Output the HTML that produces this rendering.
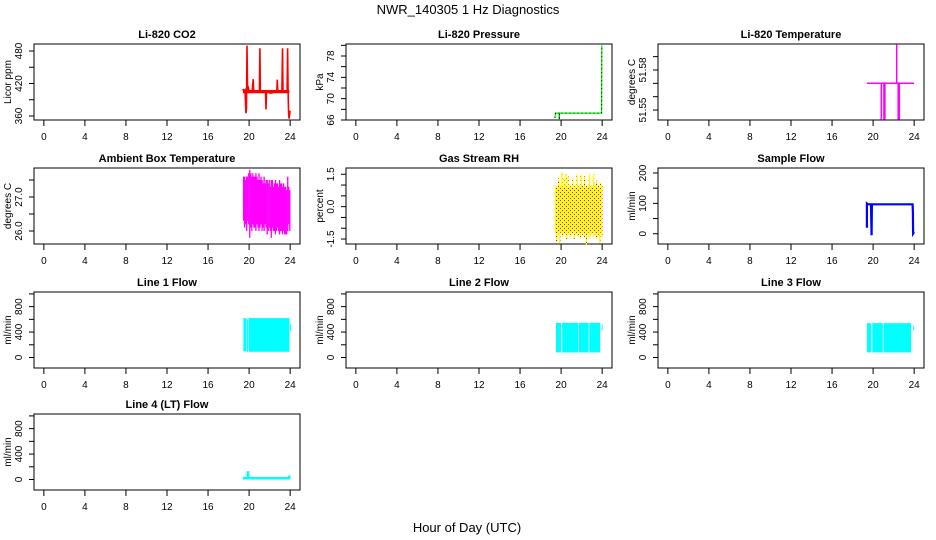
<!DOCTYPE html>
<html><head><meta charset="utf-8"><style>
html,body{margin:0;padding:0;background:#fff;}
svg{display:block;font-family:"Liberation Sans",Arial,sans-serif;}
</style></head><body>
<svg id="chart" width="936" height="540" viewBox="0 0 936 540">
<defs>
<pattern id="rhdots" width="4" height="4" patternUnits="userSpaceOnUse"><rect x="0" y="0" width="1" height="1" fill="#ff0000"/><rect x="2" y="2" width="1" height="1" fill="#ff0000"/></pattern>
</defs>
<text x="468" y="14" text-anchor="middle" font-size="13">NWR_140305  1 Hz Diagnostics</text>
<text x="467" y="532" text-anchor="middle" font-size="13">Hour of Day (UTC)</text>
</svg>
<script>
// ---- data ----
const xTicks = [0,4,8,12,16,20,24];
const co2Times = [19.4,19.5,19.6,19.7,19.75,19.8,19.85,19.9,20.0,20.3,20.4,20.45,21.0,21.05,21.1,21.6,21.65,21.7,22.1,22.7,22.75,22.8,23.2,23.25,23.3,23.7,23.75,23.8,23.85,23.9,24.0];
const co2Values = [410,406,408,365,375,490,405,415,405,406,428,405,405,485,405,405,372,405,402,405,427,405,405,485,405,405,485,405,365,355,370];
const presTimes = [19.4,19.45,19.8,19.82,19.85,23.9,23.95,23.97];
const presValues = [66.4,67.3,67.3,66.0,67.3,67.3,67.3,80.0];
const litTimes = [19.4,20.8,20.8,20.8,21.05,21.05,21.05,21.15,21.15,21.15,22.3,22.3,22.3,22.45,22.45,22.45,22.55,22.55,22.55,24.0];
const litValues = [51.565,51.565,51.5446,51.565,51.565,51.5446,51.565,51.565,51.5446,51.565,51.565,51.587,51.565,51.565,51.5446,51.565,51.565,51.5446,51.565,51.565];
const bandTimes = [19.4,19.5,19.6,19.7,19.8,19.9,20.0,20.1,20.2,20.3,20.4,20.5,20.6,20.7,20.8,20.9,21.0,21.1,21.2,21.3,21.4,21.5,21.6,21.7,21.8,21.9,22.0,22.1,22.2,22.3,22.4,22.5,22.6,22.7,22.8,22.9,23.0,23.1,23.2,23.3,23.4,23.5,23.6,23.7,23.8,23.9];
const ambHi = [27.6,27.6,27.5,27.6,27.6,27.7,27.8,27.7,27.6,27.7,27.6,27.6,27.7,27.6,27.5,27.7,27.5,27.6,27.5,27.4,27.6,27.4,27.5,27.5,27.4,27.5,27.3,27.5,27.5,27.3,27.4,27.5,27.4,27.4,27.3,27.5,27.4,27.4,27.3,27.4,27.3,27.3,27.2,27.6,27.3,27.2];
const ambLo = [26.3,26.1,26.2,26.0,26.3,26.2,25.8,26.1,26.0,26.2,26.1,26.1,26.0,26.2,26.1,26.0,26.1,26.2,26.0,26.1,26.0,26.2,26.1,25.9,26.0,26.1,26.0,25.8,26.1,26.0,26.0,25.9,26.0,26.1,26.0,25.9,26.0,26.0,25.9,26.0,25.9,25.9,25.9,26.0,26.2,26.0];
const rhHi = [1.0,0.9,0.9,1.3,0.9,1.0,1.6,0.9,1.3,0.9,1.5,0.9,1.4,0.9,1.0,0.9,0.9,1.3,0.9,1.0,0.9,1.5,0.9,1.0,0.9,1.5,1.0,0.9,1.4,0.9,1.0,0.9,0.9,1.5,0.9,1.0,0.9,1.5,0.9,1.0,1.2,0.9,1.0,0.9,1.1,1.0];
const rhLo = [-1.2,-1.6,-1.3,-1.2,-1.7,-1.2,-1.2,-1.4,-1.2,-1.3,-1.2,-1.5,-1.2,-1.2,-1.4,-1.2,-1.3,-1.2,-1.5,-1.2,-1.3,-1.2,-1.4,-1.2,-1.5,-1.2,-1.3,-1.2,-1.4,-1.2,-1.8,-1.3,-1.2,-1.5,-1.2,-1.3,-1.2,-1.4,-1.2,-1.3,-1.5,-1.2,-1.3,-1.7,-1.2,-1.4];
const sfTimes = [19.4,19.4,19.5,19.8,19.82,19.85,19.88,23.85,23.88,23.9,24.0];
const sfValues = [20,100,97,97,40,-5,97,97,70,0,5];
const l1Start = [19.44,19.8,19.95,24.0];
const l1End = [19.75,19.9,23.93,24.06];
const l1Lo = [100,90,90,420];
const l1Hi = [620,600,620,530];
const l2Start = [19.5,20.1,21.72,22.75,23.95];
const l2End = [20.0,21.65,22.68,23.8,24.02];
const l2Lo = [80,80,80,80,420];
const l2Hi = [545,545,545,545,520];
const l3Start = [19.4,19.92,21.03,23.9];
const l3End = [19.82,20.95,23.7,24.0];
const l3Lo = [80,80,80,430];
const l3Hi = [540,540,540,490];
const l4Times = [19.4,19.88,19.9,19.92,23.9,23.92,23.94,24.0];
const l4Values = [20,20,130,20,20,60,20,20];

// ---- layout ----
const NS = 'http://www.w3.org/2000/svg';
const svg = document.getElementById('chart');
const colX = [34,346,658], rowY = [44,168,292,414], W = 266, H = 76;
const XMIN = -0.96, XMAX = 24.96;
function mk(tag, attrs, parent){const e=document.createElementNS(NS,tag);for(const k in attrs)e.setAttribute(k,attrs[k]);(parent||svg).appendChild(e);return e;}

function panel(key, col, row, title, ytitle, ylim, yt, ytl){
  const g = mk('g',{});
  
  
  const x0 = colX[col], y0 = rowY[row];
  const sx = v => x0 + (v-XMIN)/(XMAX-XMIN)*W;
  const sy = v => y0 + H - (v-ylim[0])/(ylim[1]-ylim[0])*H;
  const t = mk('text',{x:x0+W/2,y:y0-6,'text-anchor':'middle','font-size':11,'font-weight':'bold'},g);
  t.textContent = title;
  
  
  const box = mk('rect',{x:x0,y:y0,width:W,height:H,fill:'none',stroke:'#000','stroke-width':1},g);
  
  
  xTicks.forEach(v=>{
    mk('line',{x1:sx(v),x2:sx(v),y1:y0+H,y2:y0+H+6,stroke:'#000'},g);
    const l = mk('text',{x:sx(v),y:y0+H+20,'text-anchor':'middle','font-size':10},g);
    l.textContent = v;
    
    
  });
  yt.forEach((v,i)=>{
    mk('line',{x1:x0,x2:x0-5,y1:sy(v),y2:sy(v),stroke:'#000'},g);
    if(ytl[i]){
      const l = mk('text',{x:0,y:0,'text-anchor':'middle','font-size':10,transform:`translate(${x0-12},${sy(v)}) rotate(-90)`},g);
      l.textContent = ytl[i];
      
      
    }
  });
  const yl = mk('text',{x:0,y:0,'text-anchor':'middle','font-size':10,transform:`translate(${x0-23},${y0+H/2}) rotate(-90)`},g);
  yl.textContent = ytitle;
  
  
  return {g,sx,sy};
}
function line(p, ts, vs, color, w, name){
  const d = ts.map((t,i)=>(i?'L':'M')+p.sx(t).toFixed(1)+','+p.sy(vs[i]).toFixed(1)).join('');
  const e = mk('path',{d,fill:'none',stroke:color,'stroke-width':w},p.g);
  
  
  return e;
}
function bands(p, ts, lo, hi, dt, fill, name){
  ts.forEach((t,i)=>{
    const r = mk('rect',{x:p.sx(t),y:p.sy(hi[i]),width:p.sx(t+dt)-p.sx(t)+0.3,height:p.sy(lo[i])-p.sy(hi[i]),fill},p.g);
    
    
  });
}
function spans(p, s, e, lo, hi, fill, name){
  s.forEach((t,i)=>{
    const r = mk('rect',{x:p.sx(t),y:p.sy(hi[i]),width:Math.max(1,p.sx(e[i])-p.sx(t)),height:p.sy(lo[i])-p.sy(hi[i]),fill},p.g);
    
    
  });
}

// CO2
let p = panel('co2',0,0,'Li-820 CO2','Licor ppm',[352.6,492.9],[360,390,420,450,480],['360','','420','','480']);
bands(p,[19.4],[402],[408],4.5,'#ff0000','co2-base-band');
line(p,co2Times,co2Values,'#ff0000',1.6,'co2-line');
// Pressure
p = panel('pressure',1,0,'Li-820 Pressure','kPa',[66.0,80.25],[66,68,70,72,74,76,78,80],['66','','70','','74','','78','']);
line(p,presTimes,presValues,'#00ee00',1.2,'pressure-line');
line(p,presTimes,presValues,'#000',1,'pressure-line-dots').setAttribute('stroke-dasharray','1 3');
// Li-820 temperature
p = panel('li820-temp',2,0,'Li-820 Temperature','degrees C',[51.5444,51.5871],[51.55,51.5575,51.565,51.5725,51.58],['51.55','','','51.58','']);
line(p,litTimes,litValues,'#ff00ff',1.5,'li820-temp-line');
// Ambient
p = panel('ambient-temp',0,1,'Ambient Box Temperature','degrees C',[25.618,27.853],[26.0,26.5,27.0,27.5],['26.0','','27.0','']);
bands(p,bandTimes,ambLo,ambHi,0.1,'#ff00ff','ambient-temp-band');
// RH
p = panel('rh',1,1,'Gas Stream RH','percent',[-1.73,1.79],[-1.5,-1.0,-0.5,0,0.5,1.0,1.5],['-1.5','','','0.0','','','1.5']);
bands(p,bandTimes,rhLo,rhHi,0.1,'#ffff00','rh-band');
bands(p,bandTimes,rhLo,rhHi,0.1,'url(#rhdots)','rh-band-dots');
// Sample flow
p = panel('sample-flow',2,1,'Sample Flow','ml/min',[-33.8,216.4],[0,50,100,150,200],['0','','100','','200']);
line(p,sfTimes,sfValues,'#0000ff',2.2,'sample-flow-line');
// Line flows
const fl = [-165,1030], ft=[0,200,400,600,800,1000], ftl=['0','','400','','800',''];
p = panel('line1-flow',0,2,'Line 1 Flow','ml/min',fl,ft,ftl);
spans(p,l1Start,l1End,l1Lo,l1Hi,'#00ffff','line1-flow-band');
p = panel('line2-flow',1,2,'Line 2 Flow','ml/min',fl,ft,ftl);
spans(p,l2Start,l2End,l2Lo,l2Hi,'#00ffff','line2-flow-band');
p = panel('line3-flow',2,2,'Line 3 Flow','ml/min',fl,ft,ftl);
spans(p,l3Start,l3End,l3Lo,l3Hi,'#00ffff','line3-flow-band');
p = panel('line4-flow',0,3,'Line 4 (LT) Flow','ml/min',fl,ft,ftl);
line(p,l4Times,l4Values,'#00ffff',2.5,'line4-flow-line');
</script>
</body></html>
